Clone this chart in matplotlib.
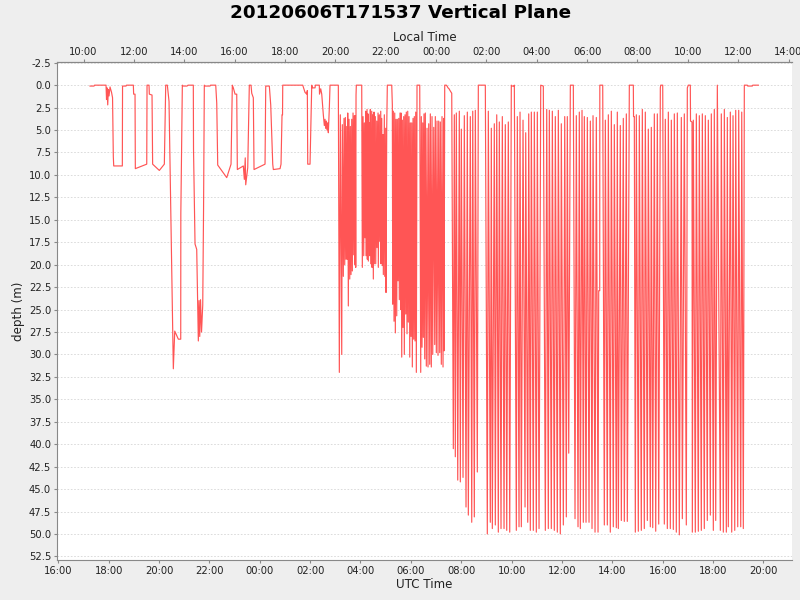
import matplotlib
matplotlib.use("Agg")
import matplotlib.pyplot as plt
import matplotlib.dates as mdates
from matplotlib.ticker import FormatStrFormatter
import numpy as np
import pandas as pd

START = pd.Timestamp("2012-06-06 00:00")   # hours below are counted from here (UTC)
LOCAL_OFFSET_H = -7                         # local time = UTC - 7 h

# ---- glider track: hours after START (UTC) and depth (m) ----
# surface intervals and shallow dives, 17:15 - 03:07 UTC
SHALLOW_H = [17.259, 17.418, 17.438, 17.894, 17.914, 17.934, 17.962, 17.986, 18.014, 18.053,
             18.113, 18.153, 18.184, 18.200, 18.542, 18.550, 18.689, 18.709, 18.979, 18.991,
             19.046, 19.058, 19.511, 19.523, 19.602, 19.614, 19.721, 19.745, 20.011, 20.210,
             20.265, 20.329, 20.396, 20.567, 20.623, 20.766, 20.861, 20.865, 20.925, 20.964,
             21.111, 21.151, 21.361, 21.369, 21.429, 21.496, 21.560, 21.588, 21.616, 21.647,
             21.687, 21.735, 21.767, 21.798, 21.826, 22.025, 22.044, 22.251, 22.291, 22.330,
             22.688, 22.859, 22.910, 22.950, 23.018, 23.085, 23.109, 23.347, 23.387, 23.423,
             23.442, 23.522, 23.585, 23.653, 23.681, 23.744, 23.772, 24.209, 24.237, 24.380,
             24.435, 24.515, 24.539, 24.805, 24.844, 24.884, 24.904, 24.912, 25.706, 25.797,
             25.865, 25.889, 25.905, 25.996, 26.064, 26.087, 26.195, 26.207, 26.365, 26.373,
             26.421, 26.461, 26.524, 26.564, 26.592, 26.620, 26.643, 26.671, 26.699, 26.723,
             26.763, 26.790, 27.120]
SHALLOW_D = [0.1, 0.1, 0.0, 0.0, 1.6, 0.3, 2.2, 0.5, 1.2, 0.2,
             0.8, 1.4, 8.0, 9.0, 9.0, 0.1, 0.1, 0.0, 0.0, 1.0,
             1.0, 9.3, 8.8, 0.0, 0.0, 1.0, 1.1, 8.8, 9.5, 8.8,
             0.0, 0.0, 1.8, 31.6, 27.4, 28.3, 28.3, 14.3, 0.0, 0.1,
             0.1, 0.0, 0.0, 7.2, 17.7, 18.3, 28.5, 24.0, 28.0, 23.9,
             27.5, 24.5, 14.0, 0.0, 0.1, 0.1, 0.0, 0.0, 2.0, 8.9,
             10.3, 8.8, 0.0, 0.3, 1.0, 1.0, 9.4, 9.0, 10.5, 8.1,
             11.1, 9.2, 0.0, 0.0, 0.9, 1.4, 9.4, 8.8, 0.1, 0.1,
             2.2, 8.8, 9.4, 9.3, 8.8, 3.3, 3.3, 0.0, 0.0, 0.8,
             1.0, 0.6, 8.8, 8.8, 0.0, 0.3, 0.3, 0.0, 0.0, 1.0,
             0.4, 1.0, 3.3, 4.5, 3.8, 4.8, 4.0, 5.0, 4.2, 5.3,
             2.5, 0.0, 0.0]

# yo-yo to ~20 m, 03:09 - 05:15 UTC
YOYO20_H = [27.160, 27.199, 27.255, 27.279, 27.318, 27.346, 27.374, 27.398, 27.426, 27.454,
            27.477, 27.493, 27.517, 27.545, 27.573, 27.597, 27.624, 27.652, 27.676, 27.704,
            27.732, 27.755, 27.783, 27.795, 27.811, 27.823, 27.835, 28.049,
            28.073, 28.101, 28.129, 28.153, 28.180, 28.208, 28.220, 28.260, 28.272, 28.299,
            28.311, 28.351, 28.367, 28.391, 28.407, 28.446, 28.458, 28.486, 28.510, 28.538,
            28.550, 28.589, 28.605, 28.645, 28.657, 28.697, 28.708, 28.748, 28.764, 28.804,
            28.816, 28.844, 28.867, 28.895, 28.907, 28.947, 28.963, 29.002, 29.014, 29.042,
            29.066, 29.241]
YOYO20_D = [32.0, 3.3, 30.0, 4.4, 21.3, 3.7, 20.0, 3.6, 19.4, 4.6,
            19.4, 3.1, 24.6, 3.8, 21.6, 4.6, 21.1, 3.8, 20.7, 3.1,
            18.9, 3.4, 20.0, 3.4, 20.3, 1.1, 0.0, 0.0,
            20.3, 3.5, 19.0, 4.2, 17.0, 2.9, 19.0, 2.7, 19.4, 3.2,
            19.6, 4.2, 19.0, 2.7, 19.9, 2.9, 20.3, 3.3, 21.6, 3.0,
            19.9, 3.5, 19.9, 4.0, 18.1, 3.1, 20.3, 3.3, 17.4, 2.9,
            19.9, 3.7, 20.1, 5.5, 21.1, 3.3, 21.3, 4.8, 23.1, 4.6,
            0.0, 0.0]

# yo-yo to ~30 m, 05:16 - 06:21 UTC
YOYO30A_H = [29.265, 29.280, 29.304, 29.332, 29.360, 29.384, 29.411, 29.439, 29.463, 29.491,
             29.519, 29.542, 29.570, 29.598, 29.610, 29.638, 29.662, 29.689, 29.717, 29.741,
             29.769, 29.797, 29.820, 29.848, 29.876, 29.900, 29.928, 29.956, 29.979, 30.007,
             30.035, 30.059, 30.087, 30.114, 30.138, 30.166, 30.194, 30.218, 30.245, 30.353]
YOYO30A_D = [2.2, 24.4, 2.9, 26.3, 3.1, 27.6, 3.8, 25.7, 3.8, 21.8,
             3.7, 23.9, 3.1, 25.0, 3.1, 30.3, 3.9, 27.0, 3.5, 30.0,
             3.3, 25.5, 3.0, 27.7, 2.9, 26.4, 3.5, 30.3, 4.2, 28.0,
             4.2, 31.4, 3.7, 28.3, 3.5, 28.5, 3.0, 32.0, 0.0, 0.0]

# yo-yo to ~30 m, 06:23 - 07:37 UTC
YOYO30B_H = [30.392, 30.416, 30.444, 30.472, 30.496, 30.523, 30.551, 30.575, 30.615, 30.643,
             30.682, 30.710, 30.750, 30.774, 30.813, 30.841, 30.869, 30.909, 30.948, 30.972,
             31.012, 31.040, 31.079, 31.107, 31.147, 31.171, 31.210, 31.238, 31.278, 31.306,
             31.318, 31.345, 31.409, 31.437, 31.477, 31.516, 31.556, 31.624]
YOYO30B_D = [32.0, 3.5, 29.2, 4.2, 28.1, 3.2, 30.5, 3.1, 31.3, 4.8,
             31.4, 4.3, 31.1, 3.2, 31.4, 3.5, 30.0, 4.7, 28.9, 3.5,
             29.8, 4.0, 30.1, 4.0, 29.8, 4.1, 31.1, 3.5, 31.4, 3.7,
             29.6, 0.0, 0.0, 0.1, 0.3, 0.4, 0.6, 0.9]

# deep dives to ~50 m, 07:41 - 12:27 UTC
DEEP_A_H = [31.687, 31.727, 31.766, 31.806, 31.862, 31.925, 31.965, 32.005, 32.072, 32.124,
            32.191, 32.243, 32.283, 32.362, 32.418, 32.458, 32.521, 32.561, 32.640, 32.680,
            32.958,
            33.037, 33.077, 33.156, 33.196, 33.236, 33.315, 33.355, 33.411, 33.474, 33.514,
            33.581, 33.633, 33.701, 33.752, 33.808, 33.871, 33.927, 33.990, 34.006, 34.098,
            34.110,
            34.189, 34.229, 34.296, 34.336, 34.388, 34.455, 34.535, 34.562, 34.642, 34.681,
            34.745, 34.785, 34.864, 34.904, 34.983, 35.023, 35.091, 35.158, 35.261,
            35.341, 35.396, 35.460, 35.500, 35.579, 35.619, 35.698, 35.738, 35.817, 35.857,
            35.936, 35.976, 36.056, 36.111, 36.175, 36.214, 36.270, 36.334, 36.453]
DEEP_A_D = [40.5, 3.3, 41.4, 3.1, 44.0, 2.9, 44.2, 4.9, 43.7, 3.4,
            47.0, 3.0, 47.9, 3.5, 48.7, 2.9, 48.1, 2.8, 43.1, 0.0,
            0.0,
            50.0, 2.9, 48.7, 4.8, 49.4, 4.3, 49.0, 3.3, 49.8, 4.1,
            49.4, 3.5, 49.4, 4.4, 49.6, 4.1, 49.8, 0.0, 0.1, 0.1,
            0.0,
            49.6, 3.5, 49.2, 3.0, 49.2, 3.9, 47.0, 5.3, 48.7, 3.2,
            49.6, 3.0, 49.6, 3.0, 49.8, 3.0, 49.4, 0.0, 0.1,
            49.6, 2.7, 49.4, 2.8, 49.4, 2.9, 49.6, 3.5, 49.8, 2.8,
            50.0, 4.3, 49.0, 3.5, 48.1, 3.5, 41.0, 0.0, 0.0]

# deep dives to ~50 m, 12:31 - 19:48 UTC
DEEP_B_H = [36.520, 36.572, 36.639, 36.691, 36.731, 36.798, 36.850, 36.890, 36.957, 37.009,
            37.076, 37.128, 37.195, 37.235, 37.315, 37.366, 37.434, 37.461, 37.501, 37.505,
            37.620,
            37.684, 37.724, 37.803, 37.843, 37.922, 37.962, 38.041, 38.081, 38.160, 38.200,
            38.240, 38.319, 38.359, 38.438, 38.478, 38.558, 38.597, 38.677, 38.836, 38.844,
            38.875,
            38.915, 38.955, 39.034, 39.074, 39.153, 39.193, 39.272, 39.312, 39.392, 39.431,
            39.511, 39.550, 39.606, 39.670, 39.725, 39.789, 39.844, 39.908, 39.924, 40.003,
            40.067, 40.106, 40.186, 40.226, 40.305, 40.345, 40.424, 40.464, 40.543, 40.583,
            40.662, 40.742, 40.782, 40.861, 40.940, 40.980, 41.020, 41.099, 41.107, 41.167,
            41.179, 41.218, 41.298, 41.338, 41.417, 41.457, 41.536, 41.576, 41.655, 41.695,
            41.774, 41.814, 41.894, 41.933, 42.013, 42.052, 42.108, 42.172,
            42.291, 42.330, 42.410, 42.450, 42.529, 42.569, 42.608, 42.688, 42.743, 42.795,
            42.863, 42.902, 42.982, 43.021, 43.101, 43.141, 43.204, 43.244, 43.363, 43.379,
            43.562, 43.577, 43.800]
DEEP_B_D = [48.3, 3.4, 49.2, 3.0, 49.4, 2.8, 48.7, 3.5, 48.7, 3.6,
            48.7, 4.0, 49.4, 3.4, 49.8, 3.6, 49.8, 22.9, 22.9, 0.0,
            0.0,
            49.0, 3.9, 49.0, 3.3, 49.8, 2.9, 49.2, 4.4, 49.3, 3.0,
            49.4, 4.5, 48.5, 3.7, 48.6, 3.2, 48.6, 0.0, 0.0, 3.5,
            3.5,
            49.8, 3.3, 49.7, 3.4, 49.6, 2.7, 49.4, 3.0, 48.5, 4.9,
            49.2, 4.7, 49.3, 3.2, 49.7, 3.2, 48.9, 0.3, 0.0, 0.0,
            48.9, 3.8, 49.4, 3.0, 49.4, 3.9, 49.5, 3.2, 49.8, 3.1,
            50.1, 3.6, 48.3, 3.2, 49.0, 0.3, 0.0, 0.0, 4.0, 4.1,
            49.8, 3.9, 49.8, 3.2, 49.7, 3.4, 49.6, 3.2, 49.4, 3.4,
            48.5, 3.9, 47.9, 3.2, 49.6, 2.7, 48.5, 0.0,
            49.6, 3.2, 49.8, 2.7, 49.8, 3.6, 49.2, 3.0, 49.8, 3.4,
            49.6, 2.8, 49.2, 2.8, 49.2, 3.0, 49.4, 0.0, 0.0, 0.1,
            0.1, 0.0, 0.0]

hours = np.concatenate([SHALLOW_H, YOYO20_H, YOYO30A_H, YOYO30B_H, DEEP_A_H, DEEP_B_H])
depth = np.concatenate([SHALLOW_D, YOYO20_D, YOYO30A_D, YOYO30B_D, DEEP_A_D, DEEP_B_D])
times = START + pd.to_timedelta(hours, unit="h")

GREY, BG, INK, RED = "#888888", "#eeeeee", "#333333", "#ff5555"

fig = plt.figure(figsize=(8, 6), dpi=100, facecolor=BG)
ax = fig.add_axes([0.0709, 0.0667, 0.9195, 0.8295])
ax.set_facecolor("white")
ax.plot(times, depth, color=RED, lw=0.85)

ax.set_xlim(START + pd.Timedelta(hours=15.936), START + pd.Timedelta(hours=45.15))
ax.set_ylim(52.9, -2.55)
ax.set_yticks(np.arange(-2.5, 52.6, 2.5))
ax.yaxis.set_major_formatter(FormatStrFormatter("%.1f"))
ax.xaxis.set_major_locator(mdates.HourLocator(byhour=range(0, 24, 2)))
ax.xaxis.set_major_formatter(mdates.DateFormatter("%H:%M"))
ax.yaxis.grid(True, color="#d6d6d6", linestyle=(0, (2, 2)), lw=0.6)
ax.set_axisbelow(True)

off = LOCAL_OFFSET_H / 24.0
top = ax.secondary_xaxis("top", functions=(lambda x: x + off, lambda x: x - off))
top.xaxis.set_major_locator(mdates.HourLocator(byhour=range(0, 24, 2)))
top.xaxis.set_major_formatter(mdates.DateFormatter("%H:%M"))

for a in (ax, top):
    a.tick_params(length=2, width=0.8, color=GREY, labelsize=7.2, labelcolor="#222222", pad=2)
    for s in a.spines.values():
        s.set_color(GREY)
ax.spines["right"].set_visible(False)

ax.set_xlabel("UTC Time", fontsize=8.6, color="#222222", labelpad=2)
ax.set_ylabel("depth (m)", fontsize=8.6, color="#222222", labelpad=3)
top.set_xlabel("Local Time", fontsize=8.6, color="#222222", labelpad=4)
fig.text(0.501, 0.979, "20120606T171537 Vertical Plane", ha="center", va="center",
         fontsize=13.2, weight="bold", color="black")

fig.savefig("out.png", dpi=100, facecolor=BG)
